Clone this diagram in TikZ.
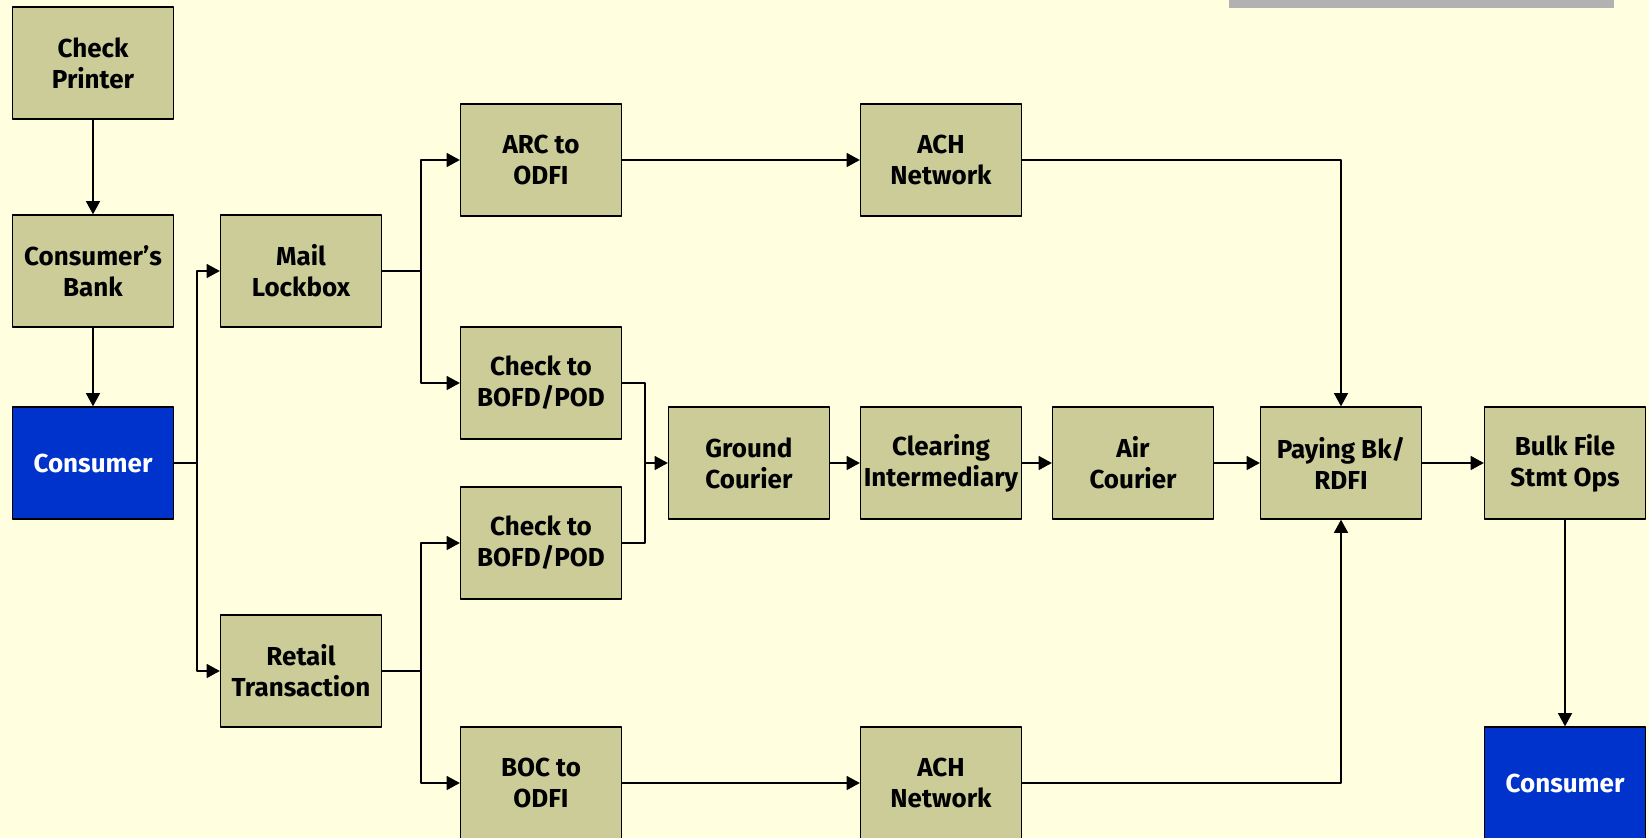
\documentclass[tikz,border=0pt]{standalone}
\usepackage{fontspec}
\setmainfont{Fira Sans}
\usetikzlibrary{arrows.meta}
\definecolor{bgyellow}{HTML}{FFFFE0}
\definecolor{boxtan}{HTML}{CCCC99}
\definecolor{consblue}{HTML}{0033CC}
\definecolor{bargray}{HTML}{B2B2B2}
\begin{document}
\begin{tikzpicture}[x=0.02cm, y=-0.02cm, font=\bfseries\fontsize{14.8}{17.6}\selectfont, line join=round, >={Triangle[length=7.5pt,width=8pt]},
	box/.style={draw, line width=0.8pt, fill=boxtan, minimum width=3.22cm, minimum height=2.24cm, align=center, inner sep=1pt},
	endbox/.style={box, fill=consblue, text=white},
	link/.style={line width=0.75pt}]
	\fill[bgyellow] (0,0) rectangle (1649,838);
	\useasboundingbox (0,0) rectangle (1649,838);
	\clip (0,0) rectangle (1649,838);
	\fill[bargray] (1229,0) rectangle (1614,7.7);
	% left column
	\node[box] (printer) at (93,63) {Check\\Printer};
	\node[box] (cbank) at (93,271) {Consumer's\\Bank};
	\node[endbox] (consA) at (93,463) {Consumer};
	\node[box] (mail) at (301,271) {Mail\\Lockbox};
	\node[box] (retail) at (301,671) {Retail\\Transaction};
	% capture
	\node[box] (arc) at (541,160) {ARC to\\ODFI};
	\node[box] (chkA) at (541,383) {Check to\\BOFD/POD};
	\node[box] (chkB) at (541,543) {Check to\\BOFD/POD};
	\node[box] (boc) at (541,783) {BOC to\\ODFI};
	% clearing
	\node[box] (ground) at (749,463) {Ground\\Courier};
	\node[box] (achA) at (941,160) {ACH\\Network};
	\node[box] (clearing) at (941,463) {Clearing\\Intermediary};
	\node[box] (achB) at (941,783) {ACH\\Network};
	\node[box] (air) at (1133,463) {Air\\Courier};
	\node[box] (paying) at (1341,463) {Paying Bk/\\RDFI};
	\node[box] (bulk) at (1565,463) {Bulk File\\Stmt Ops};
	\node[endbox] (consB) at (1565,783) {Consumer};
	% branch points
	\coordinate (trunk) at (197,463);
	\coordinate (mailbr) at (421,271);
	\coordinate (retailbr) at (421,671);
	\coordinate (merge) at (645,463);
	\draw[link,->] (printer) -- (cbank);
	\draw[link,->] (cbank) -- (consA);
	\draw[link] (consA.east) -- (trunk);
	\draw[link,->] (trunk) |- (mail.west);
	\draw[link,->] (trunk) |- (retail.west);
	\draw[link] (mail.east) -- (mailbr);
	\draw[link,->] (mailbr) |- (arc.west);
	\draw[link,->] (mailbr) |- (chkA.west);
	\draw[link] (retail.east) -- (retailbr);
	\draw[link,->] (retailbr) |- (chkB.west);
	\draw[link,->] (retailbr) |- (boc.west);
	\draw[link] (chkA.east) -| (merge);
	\draw[link] (chkB.east) -| (merge);
	\draw[link,->] (merge) -- (ground.west);
	\draw[link,->] (arc) -- (achA);
	\draw[link,->] (boc) -- (achB);
	\draw[link,->] (ground) -- (clearing);
	\draw[link,->] (clearing) -- (air);
	\draw[link,->] (air) -- (paying);
	\draw[link,->] (paying) -- (bulk);
	\draw[link,->] (achA.east) -| (paying.north);
	\draw[link,->] (achB.east) -| (paying.south);
	\draw[link,->] (bulk) -- (consB);
\end{tikzpicture}
\end{document}
